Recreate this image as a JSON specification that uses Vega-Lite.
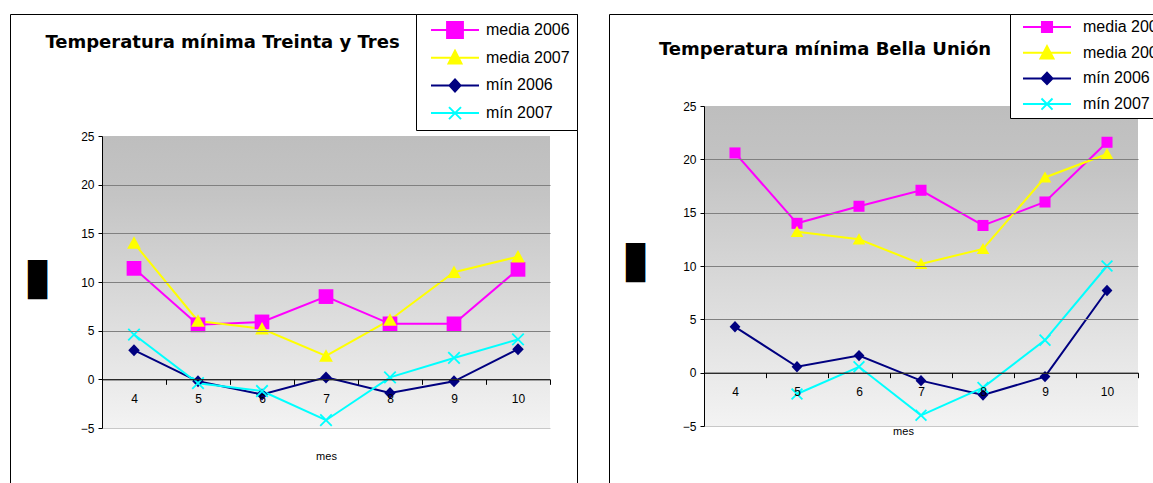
{
  "$schema": "https://vega.github.io/schema/vega-lite/v6.json",
  "padding": {"left": 9, "top": 13, "right": 0, "bottom": 0},
  "background": "white",
  "spacing": 30,
  "resolve": {"scale": {"color": "independent", "shape": "independent", "fill": "independent"}, "legend": {"color": "independent", "shape": "independent", "fill": "independent"}},
  "config": {
    "view": {"stroke": "black", "strokeWidth": 1},
    "font": "Liberation Sans"
  },
  "data": {"values": [
    {"estacion": "Treinta y Tres", "mes": 4, "serie": "media 2006", "valor": 11.4},
    {"estacion": "Treinta y Tres", "mes": 5, "serie": "media 2006", "valor": 5.6},
    {"estacion": "Treinta y Tres", "mes": 6, "serie": "media 2006", "valor": 5.9},
    {"estacion": "Treinta y Tres", "mes": 7, "serie": "media 2006", "valor": 8.5},
    {"estacion": "Treinta y Tres", "mes": 8, "serie": "media 2006", "valor": 5.7},
    {"estacion": "Treinta y Tres", "mes": 9, "serie": "media 2006", "valor": 5.7},
    {"estacion": "Treinta y Tres", "mes": 10, "serie": "media 2006", "valor": 11.3},
    {"estacion": "Treinta y Tres", "mes": 4, "serie": "media 2007", "valor": 14.0},
    {"estacion": "Treinta y Tres", "mes": 5, "serie": "media 2007", "valor": 6.0},
    {"estacion": "Treinta y Tres", "mes": 6, "serie": "media 2007", "valor": 5.2},
    {"estacion": "Treinta y Tres", "mes": 7, "serie": "media 2007", "valor": 2.4},
    {"estacion": "Treinta y Tres", "mes": 8, "serie": "media 2007", "valor": 6.1},
    {"estacion": "Treinta y Tres", "mes": 9, "serie": "media 2007", "valor": 11.0},
    {"estacion": "Treinta y Tres", "mes": 10, "serie": "media 2007", "valor": 12.6},
    {"estacion": "Treinta y Tres", "mes": 4, "serie": "mín 2006", "valor": 3.0},
    {"estacion": "Treinta y Tres", "mes": 5, "serie": "mín 2006", "valor": -0.2},
    {"estacion": "Treinta y Tres", "mes": 6, "serie": "mín 2006", "valor": -1.55},
    {"estacion": "Treinta y Tres", "mes": 7, "serie": "mín 2006", "valor": 0.2},
    {"estacion": "Treinta y Tres", "mes": 8, "serie": "mín 2006", "valor": -1.4},
    {"estacion": "Treinta y Tres", "mes": 9, "serie": "mín 2006", "valor": -0.2},
    {"estacion": "Treinta y Tres", "mes": 10, "serie": "mín 2006", "valor": 3.1},
    {"estacion": "Treinta y Tres", "mes": 4, "serie": "mín 2007", "valor": 4.6},
    {"estacion": "Treinta y Tres", "mes": 5, "serie": "mín 2007", "valor": -0.4},
    {"estacion": "Treinta y Tres", "mes": 6, "serie": "mín 2007", "valor": -1.2},
    {"estacion": "Treinta y Tres", "mes": 7, "serie": "mín 2007", "valor": -4.2},
    {"estacion": "Treinta y Tres", "mes": 8, "serie": "mín 2007", "valor": 0.2},
    {"estacion": "Treinta y Tres", "mes": 9, "serie": "mín 2007", "valor": 2.2},
    {"estacion": "Treinta y Tres", "mes": 10, "serie": "mín 2007", "valor": 4.1},
    {"estacion": "Bella Unión", "mes": 4, "serie": "media 2006", "valor": 20.6},
    {"estacion": "Bella Unión", "mes": 5, "serie": "media 2006", "valor": 14.0},
    {"estacion": "Bella Unión", "mes": 6, "serie": "media 2006", "valor": 15.6},
    {"estacion": "Bella Unión", "mes": 7, "serie": "media 2006", "valor": 17.1},
    {"estacion": "Bella Unión", "mes": 8, "serie": "media 2006", "valor": 13.8},
    {"estacion": "Bella Unión", "mes": 9, "serie": "media 2006", "valor": 16.0},
    {"estacion": "Bella Unión", "mes": 10, "serie": "media 2006", "valor": 21.6},
    {"estacion": "Bella Unión", "mes": 5, "serie": "media 2007", "valor": 13.2},
    {"estacion": "Bella Unión", "mes": 6, "serie": "media 2007", "valor": 12.5},
    {"estacion": "Bella Unión", "mes": 7, "serie": "media 2007", "valor": 10.2},
    {"estacion": "Bella Unión", "mes": 8, "serie": "media 2007", "valor": 11.6},
    {"estacion": "Bella Unión", "mes": 9, "serie": "media 2007", "valor": 18.3},
    {"estacion": "Bella Unión", "mes": 10, "serie": "media 2007", "valor": 20.5},
    {"estacion": "Bella Unión", "mes": 4, "serie": "mín 2006", "valor": 4.3},
    {"estacion": "Bella Unión", "mes": 5, "serie": "mín 2006", "valor": 0.55},
    {"estacion": "Bella Unión", "mes": 6, "serie": "mín 2006", "valor": 1.6},
    {"estacion": "Bella Unión", "mes": 7, "serie": "mín 2006", "valor": -0.75},
    {"estacion": "Bella Unión", "mes": 8, "serie": "mín 2006", "valor": -2.1},
    {"estacion": "Bella Unión", "mes": 9, "serie": "mín 2006", "valor": -0.37},
    {"estacion": "Bella Unión", "mes": 10, "serie": "mín 2006", "valor": 7.7},
    {"estacion": "Bella Unión", "mes": 5, "serie": "mín 2007", "valor": -2.0},
    {"estacion": "Bella Unión", "mes": 6, "serie": "mín 2007", "valor": 0.55},
    {"estacion": "Bella Unión", "mes": 7, "serie": "mín 2007", "valor": -4.0},
    {"estacion": "Bella Unión", "mes": 8, "serie": "mín 2007", "valor": -1.4},
    {"estacion": "Bella Unión", "mes": 9, "serie": "mín 2007", "valor": 3.05},
    {"estacion": "Bella Unión", "mes": 10, "serie": "mín 2007", "valor": 10.0}
  ]},
  "hconcat": [
    {
      "width": 567,
      "height": 470,
      "title": {"text": "Temperatura mínima Treinta y Tres", "anchor": "middle", "dx": -71, "offset": -52, "baseline": "alphabetic", "font": "DejaVu Sans", "fontSize": 18, "fontWeight": "bold", "color": "black"},
      "transform": [{"filter": "datum.estacion === 'Treinta y Tres'"}],
      "layer": [
        {
          "transform": [{"filter": "datum.serie === 'media 2006'"}],
          "mark": {"type": "rect", "fill": {"gradient": "linear", "x1": 0, "y1": 0, "x2": 0, "y2": 1, "stops": [{"offset": 0, "color": "#bebebe"}, {"offset": 0.2, "color": "#c4c4c4"}, {"offset": 1, "color": "#f3f3f3"}]}},
          "encoding": {
            "x": {"field": "mes", "type": "ordinal", "scale": {"type": "band", "range": [92, 540], "paddingInner": 0, "paddingOuter": 0},
              "axis": {"offset": -104.67, "domainColor": "black", "tickColor": "black", "tickSize": 5, "tickBand": "extent", "labelAngle": 0, "labelPadding": 9, "labelFontSize": 12, "labelColor": "black", "labelFont": "Liberation Sans", "title": "mes", "titleFont": "Liberation Sans", "titleFontSize": 11, "titleFontWeight": "normal", "titleColor": "black", "titleY": 77, "titleBaseline": "middle", "grid": false, "zindex": 1}},
            "y": {"datum": -5, "type": "quantitative", "scale": {"domain": [-5, 25], "range": [414, 122], "nice": false, "zero": false},
              "axis": {"offset": -92, "values": [-5, 0, 5, 10, 15, 20, 25], "domainColor": "black", "tickColor": "black", "tickSize": 4, "labelPadding": 4, "labelFontSize": 12, "labelColor": "black", "labelFont": "Liberation Sans", "grid": true, "gridColor": {"condition": [{"test": "datum.value === 25", "value": "transparent"}, {"test": "datum.value === -5", "value": "#c8c8c8"}], "value": "#808080"}, "title": "▊", "titleFont": "DejaVu Sans", "titleFontSize": 33, "titleFontWeight": "normal", "titleColor": "black", "titleAngle": 0, "titleX": -61.5, "titleY": 266.5, "titleAlign": "center", "titleBaseline": "middle", "zindex": 1}},
            "y2": {"datum": 25}
          }
        },
        {
          "mark": {"type": "line", "strokeWidth": 2},
          "encoding": {
            "x": {"field": "mes", "type": "ordinal"},
            "y": {"field": "valor", "type": "quantitative"},
            "color": {"field": "serie", "type": "nominal", "scale": {"domain": ["media 2006", "media 2007", "mín 2006", "mín 2007"], "range": ["#ff00ff", "#ffff00", "#000080", "#00ffff"]},
              "legend": {"title": null, "orient": "top-right", "offset": 0, "strokeColor": "black", "fillColor": "white", "padding": 7, "symbolSize": 2304, "symbolStrokeWidth": 2, "clipHeight": 18, "rowPadding": 9.7, "symbolOffset": 7, "labelOffset": 6, "labelFont": "Liberation Sans", "labelFontSize": 16, "labelColor": "black", "symbolOpacity": 1}}
          }
        },
        {
          "transform": [{"filter": "false"}],
          "mark": {"type": "point", "filled": false, "strokeWidth": 2, "opacity": 1},
          "encoding": {
            "x": {"field": "mes", "type": "ordinal"},
            "y": {"field": "valor", "type": "quantitative"},
            "color": {"field": "serie", "type": "nominal"},
            "shape": {"field": "serie", "type": "nominal", "legend": null, "scale": {"domain": ["media 2006", "media 2007", "mín 2006", "mín 2007"], "range": ["M-1,0H1M-0.33,-0.33H0.33V0.33H-0.33Z", "M-1,0H1M0,-0.29L0.27,0.24H-0.27Z", "M-1,0H1M0,-0.25L0.23,0L0,0.25L-0.23,0Z", "M-1,0H1M-0.25,-0.25L0.25,0.25M-0.25,0.25L0.25,-0.25"]}},
            "fill": {"field": "serie", "type": "nominal", "legend": null, "scale": {"domain": ["media 2006", "media 2007", "mín 2006", "mín 2007"], "range": ["#ff00ff", "#ffff00", "#000080", "transparent"]}}
          }
        },
        {
          "transform": [{"filter": "datum.serie === 'media 2006'"}],
          "mark": {"type": "point", "shape": "M-0.92,-0.92H0.92V0.92H-0.92Z", "size": 256, "filled": true, "color": "#ff00ff", "opacity": 1},
          "encoding": {"x": {"field": "mes", "type": "ordinal"}, "y": {"field": "valor", "type": "quantitative"}}
        },
        {
          "transform": [{"filter": "datum.serie === 'media 2007'"}],
          "mark": {"type": "point", "shape": "M0,-0.85L0.86,0.72H-0.86Z", "size": 256, "filled": true, "color": "#ffff00", "opacity": 1},
          "encoding": {"x": {"field": "mes", "type": "ordinal"}, "y": {"field": "valor", "type": "quantitative"}}
        },
        {
          "transform": [{"filter": "datum.serie === 'mín 2006'"}],
          "mark": {"type": "point", "shape": "M0,-0.75L0.72,0L0,0.75L-0.72,0Z", "size": 256, "filled": true, "color": "#000080", "opacity": 1},
          "encoding": {"x": {"field": "mes", "type": "ordinal"}, "y": {"field": "valor", "type": "quantitative"}}
        },
        {
          "transform": [{"filter": "datum.serie === 'mín 2007'"}],
          "mark": {"type": "point", "shape": "M-0.72,-0.72L0.72,0.72M-0.72,0.72L0.72,-0.72", "size": 256, "filled": false, "strokeWidth": 1.8, "color": "#00ffff", "opacity": 1},
          "encoding": {"x": {"field": "mes", "type": "ordinal"}, "y": {"field": "valor", "type": "quantitative"}}
        }
      ]
    },
    {
      "width": 562,
      "height": 470,
      "title": {"text": "Temperatura mínima Bella Unión", "anchor": "middle", "dx": -65, "offset": -59, "baseline": "alphabetic", "font": "DejaVu Sans", "fontSize": 18, "fontWeight": "bold", "color": "black"},
      "transform": [{"filter": "datum.estacion === 'Bella Unión'"}],
      "layer": [
        {
          "transform": [{"filter": "datum.serie === 'media 2006'"}],
          "mark": {"type": "rect", "fill": {"gradient": "linear", "x1": 0, "y1": 0, "x2": 0, "y2": 1, "stops": [{"offset": 0, "color": "#bebebe"}, {"offset": 0.2, "color": "#c4c4c4"}, {"offset": 1, "color": "#f3f3f3"}]}},
          "encoding": {
            "x": {"field": "mes", "type": "ordinal", "scale": {"type": "band", "range": [95, 529], "paddingInner": 0, "paddingOuter": 0},
              "axis": {"offset": -111.33, "domainColor": "black", "tickColor": "black", "tickSize": 5, "tickBand": "extent", "labelAngle": 0, "labelPadding": 9, "labelFontSize": 12, "labelColor": "black", "labelFont": "Liberation Sans", "title": "mes", "titleFont": "Liberation Sans", "titleFontSize": 11, "titleFontWeight": "normal", "titleColor": "black", "titleX": 294, "titleY": 59, "titleBaseline": "middle", "grid": false, "zindex": 1}},
            "y": {"datum": -5, "type": "quantitative", "scale": {"domain": [-5, 25], "range": [412, 92], "nice": false, "zero": false},
              "axis": {"offset": -95, "values": [-5, 0, 5, 10, 15, 20, 25], "domainColor": "black", "tickColor": "black", "tickSize": 4, "labelPadding": 4, "labelFontSize": 12, "labelColor": "black", "labelFont": "Liberation Sans", "grid": true, "gridColor": {"condition": [{"test": "datum.value === 25", "value": "transparent"}, {"test": "datum.value === -5", "value": "#c8c8c8"}], "value": "#808080"}, "title": "▊", "titleFont": "DejaVu Sans", "titleFontSize": 33, "titleFontWeight": "normal", "titleColor": "black", "titleAngle": 0, "titleX": -65.5, "titleY": 249.5, "titleAlign": "center", "titleBaseline": "middle", "zindex": 1}},
            "y2": {"datum": 25}
          }
        },
        {
          "mark": {"type": "line", "strokeWidth": 2},
          "encoding": {
            "x": {"field": "mes", "type": "ordinal"},
            "y": {"field": "valor", "type": "quantitative"},
            "color": {"field": "serie", "type": "nominal", "scale": {"domain": ["media 2006", "media 2007", "mín 2006", "mín 2007"], "range": ["#ff00ff", "#ffff00", "#000080", "#00ffff"]},
              "legend": {"title": null, "orient": "top-right", "offset": 0, "strokeColor": "black", "fillColor": "white", "padding": 4, "symbolSize": 2304, "symbolStrokeWidth": 2, "clipHeight": 18, "rowPadding": 7.7, "symbolOffset": 8, "labelOffset": 11, "labelFont": "Liberation Sans", "labelFontSize": 16, "labelColor": "black", "symbolOpacity": 1}}
          }
        },
        {
          "transform": [{"filter": "false"}],
          "mark": {"type": "point", "filled": false, "strokeWidth": 2, "opacity": 1},
          "encoding": {
            "x": {"field": "mes", "type": "ordinal"},
            "y": {"field": "valor", "type": "quantitative"},
            "color": {"field": "serie", "type": "nominal"},
            "shape": {"field": "serie", "type": "nominal", "legend": null, "scale": {"domain": ["media 2006", "media 2007", "mín 2006", "mín 2007"], "range": ["M-1,0H1M-0.21,-0.21H0.21V0.21H-0.21Z", "M-1,0H1M0,-0.27L0.27,0.24H-0.27Z", "M-1,0H1M0,-0.24L0.23,0L0,0.24L-0.23,0Z", "M-1,0H1M-0.23,-0.23L0.23,0.23M-0.23,0.23L0.23,-0.23"]}},
            "fill": {"field": "serie", "type": "nominal", "legend": null, "scale": {"domain": ["media 2006", "media 2007", "mín 2006", "mín 2007"], "range": ["#ff00ff", "#ffff00", "#000080", "transparent"]}}
          }
        },
        {
          "transform": [{"filter": "datum.serie === 'media 2006'"}],
          "mark": {"type": "point", "shape": "M-0.92,-0.92H0.92V0.92H-0.92Z", "size": 144, "filled": true, "color": "#ff00ff", "opacity": 1},
          "encoding": {"x": {"field": "mes", "type": "ordinal"}, "y": {"field": "valor", "type": "quantitative"}}
        },
        {
          "transform": [{"filter": "datum.serie === 'media 2007'"}],
          "mark": {"type": "point", "shape": "M0,-1L1.05,0.85H-1.05Z", "size": 144, "filled": true, "color": "#ffff00", "opacity": 1},
          "encoding": {"x": {"field": "mes", "type": "ordinal"}, "y": {"field": "valor", "type": "quantitative"}}
        },
        {
          "transform": [{"filter": "datum.serie === 'mín 2006'"}],
          "mark": {"type": "point", "shape": "M0,-0.95L0.9,0L0,0.95L-0.9,0Z", "size": 144, "filled": true, "color": "#000080", "opacity": 1},
          "encoding": {"x": {"field": "mes", "type": "ordinal"}, "y": {"field": "valor", "type": "quantitative"}}
        },
        {
          "transform": [{"filter": "datum.serie === 'mín 2007'"}],
          "mark": {"type": "point", "shape": "M-0.9,-0.9L0.9,0.9M-0.9,0.9L0.9,-0.9", "size": 144, "filled": false, "strokeWidth": 1.8, "color": "#00ffff", "opacity": 1},
          "encoding": {"x": {"field": "mes", "type": "ordinal"}, "y": {"field": "valor", "type": "quantitative"}}
        }
      ]
    }
  ]
}
